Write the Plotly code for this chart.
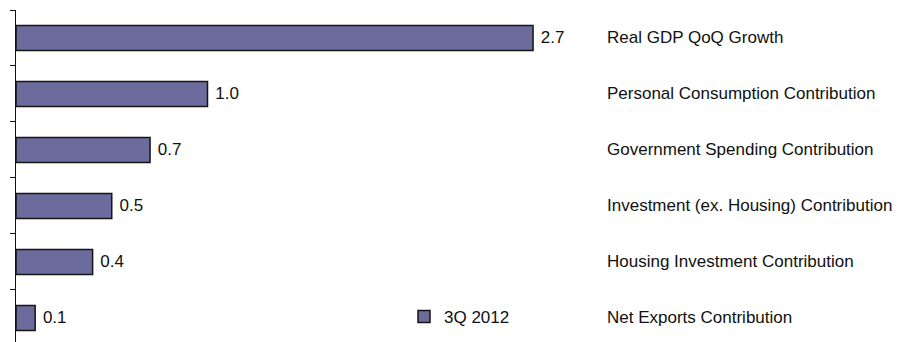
import plotly.graph_objects as go

# GDP growth and contributions, 3Q 2012 (percentage points)
categories = [
    "Net Exports Contribution",
    "Housing Investment Contribution",
    "Investment (ex. Housing) Contribution",
    "Government Spending Contribution",
    "Personal Consumption Contribution",
    "Real GDP QoQ Growth",
]
values_3q2012 = [0.1, 0.4, 0.5, 0.7, 1.0, 2.7]
series_name = "3Q 2012"

FONT = "Liberation Sans, Arial, sans-serif"
BAR_COLOR = "#6b6b9e"
TEXT_COLOR = "#111111"

W, H = 899, 342
ML, MT = 16, 10
PX_PER_UNIT = 191.5
plot_w = W - ML

fig = go.Figure()
fig.add_trace(go.Bar(
    y=categories,
    x=values_3q2012,
    orientation="h",
    name=series_name,
    width=0.446,
    marker=dict(color=BAR_COLOR, line=dict(color="#151515", width=1.5)),
    text=[f" {v:.1f}" for v in values_3q2012],
    textposition="outside",
    cliponaxis=False,
    textfont=dict(family=FONT, size=17, color=TEXT_COLOR),
    hoverinfo="skip",
))

# category names listed in a column to the right of the bars
for cat in categories:
    fig.add_annotation(
        x=(605 - ML) / plot_w, xref="paper",
        y=cat, yref="y",
        text=cat, showarrow=False,
        xanchor="left", yanchor="middle",
        font=dict(family=FONT, size=17, color=TEXT_COLOR),
    )

fig.update_layout(
    width=W, height=H,
    margin=dict(l=ML, r=0, t=MT, b=0),
    paper_bgcolor="white", plot_bgcolor="white",
    showlegend=True,
    legend=dict(
        x=(404 - ML) / plot_w, xanchor="left",
        y=(H - 317) / (H - MT), yanchor="middle",
        font=dict(family=FONT, size=17, color=TEXT_COLOR),
        bgcolor="rgba(0,0,0,0)",
    ),
    xaxis=dict(
        visible=False,
        range=[0, plot_w / PX_PER_UNIT],
    ),
    yaxis=dict(
        type="category",
        categoryorder="array", categoryarray=categories,
        range=[-0.43, 5.5],
        showticklabels=False,
        showgrid=False, zeroline=False,
        showline=True, linecolor="#111111", linewidth=1,
        ticks="outside", ticklen=5, tickcolor="#111111", tickwidth=1,
        tickson="boundaries",
    ),
    bargap=0.5,
)

fig.write_html("out.html")
